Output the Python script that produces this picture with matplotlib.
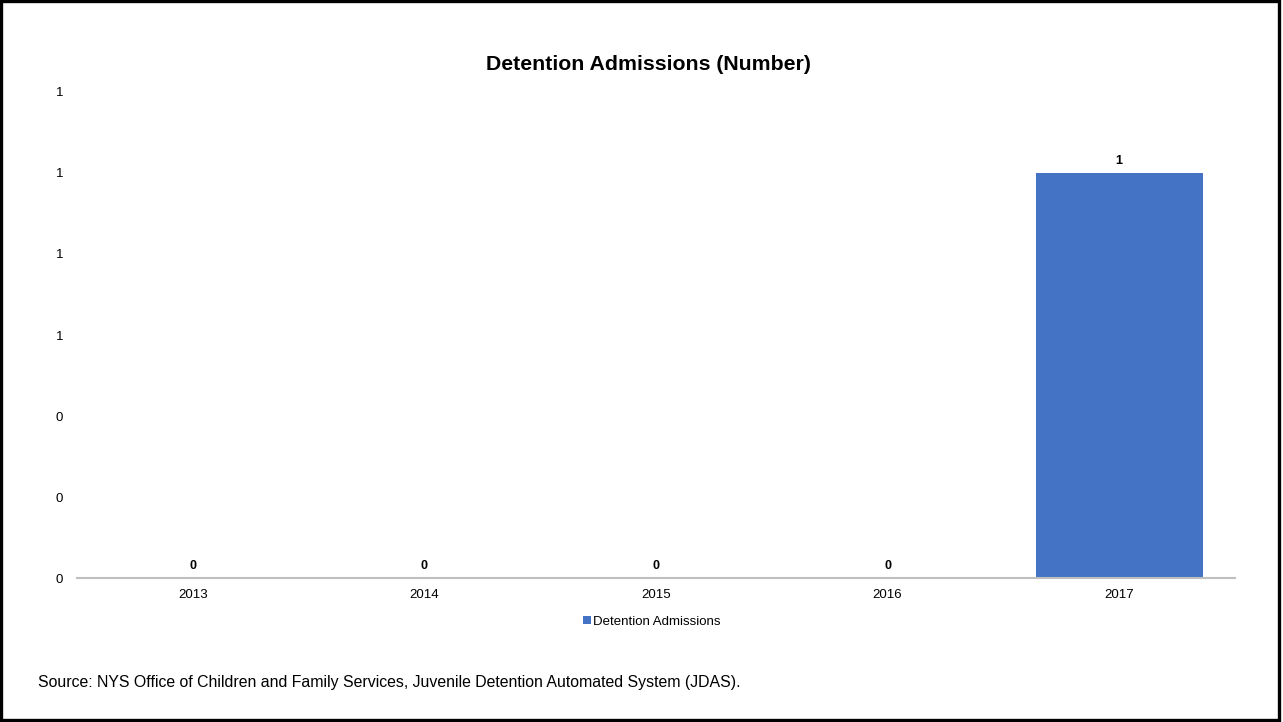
import matplotlib
matplotlib.use("Agg")
import matplotlib.pyplot as plt
from matplotlib.patches import Rectangle
from matplotlib.ticker import FuncFormatter, MultipleLocator

# Chart data
years = ["2013", "2014", "2015", "2016", "2017"]
admissions = [0, 0, 0, 0, 1]

bar_color = "#4472C4"
plt.rcParams["font.family"] = ["Liberation Sans", "DejaVu Sans"]

fig = plt.figure(figsize=(12.83, 7.22), dpi=100)
ax = fig.add_axes([0.060, 0.1994, 0.9026, 0.6732])

x = range(len(years))
bars = ax.bar(x, admissions, width=0.72, color=bar_color, label="Detention Admissions", zorder=2)

# Value labels above each bar
for xi, v in zip(x, admissions):
    ax.annotate(f"{v:.0f}", (xi, v), textcoords="offset points", xytext=(0, 4),
                ha="center", va="bottom", fontsize=9, fontweight="bold", color="#000000")

ax.set_xlim(-0.5, len(years) - 0.5)
ax.set_ylim(0, 1.2)
ax.yaxis.set_major_locator(MultipleLocator(0.2))
ax.yaxis.set_major_formatter(FuncFormatter(lambda v, p: f"{v:.0f}"))
ax.set_xticks(list(x))
ax.set_xticklabels(years)
ax.tick_params(axis="both", length=0, labelsize=9.5, colors="#000000")
ax.tick_params(axis="y", pad=10)
ax.tick_params(axis="x", pad=8)

for side in ["top", "right", "left"]:
    ax.spines[side].set_visible(False)
ax.spines["bottom"].set_color("#BFBFBF")
ax.spines["bottom"].set_linewidth(1.5)

fig.text(648 / 1283, 1 - 65 / 722, "Detention Admissions (Number)", fontsize=15.3,
         fontweight="bold", ha="center", va="center")

leg = fig.legend(handles=[bars], labels=["Detention Admissions"], loc="center",
                 bbox_to_anchor=(0.508, 0.139), frameon=False, fontsize=9.5,
                 handlelength=0.6, handleheight=0.6, handletextpad=0.2)

fig.text(38 / 1283, 1 - 683 / 722, "Source: NYS Office of Children and Family Services, Juvenile Detention Automated System (JDAS).",
         fontsize=11.4, ha="left", va="center")

# Outer border
fig.patches.append(Rectangle((0.001, 0.003), 0.996, 0.995, transform=fig.transFigure,
                             fill=False, edgecolor="black", linewidth=2.4))

fig.savefig("out.png", dpi=100)
